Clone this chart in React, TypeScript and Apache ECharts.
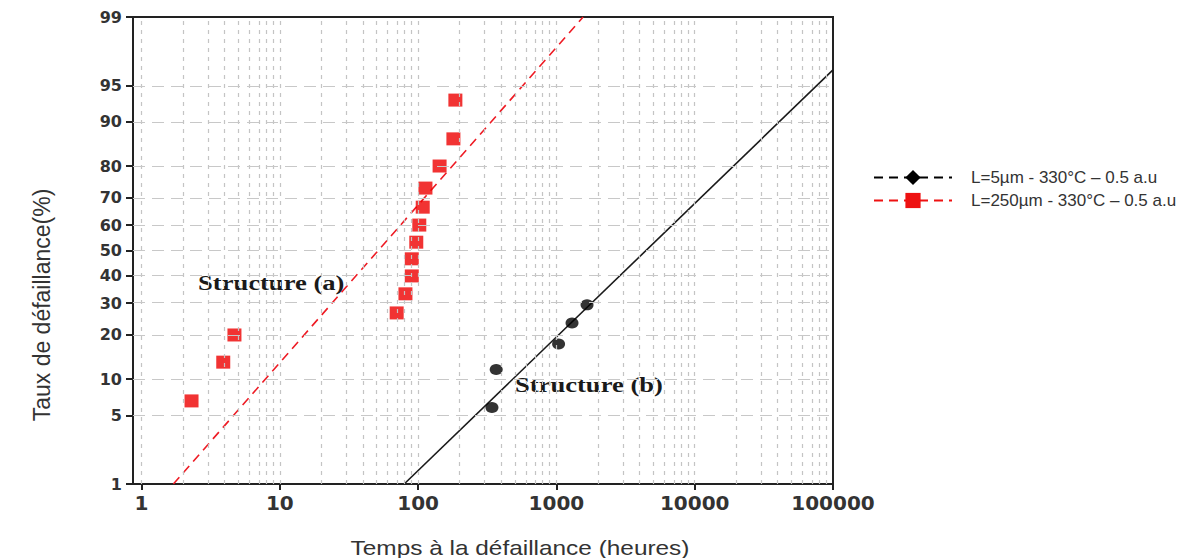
import React, { useEffect, useRef } from "react";
import * as echarts from "echarts";

// ---- Data -------------------------------------------------------------
const xTickTimes = [1, 10, 100, 1000, 10000, 100000];
const yTickPercents = [1, 5, 10, 20, 30, 40, 50, 60, 70, 80, 90, 95, 99];
const gridPercents = [5, 10, 20, 30, 40, 50, 60, 70, 80, 90, 95];
const gridDecades = [1, 10, 100, 1000, 10000];
const gridMultipliers = [1, 2, 3, 4, 5, 6, 7, 8, 9];
const xAxisMinTime = 0.868;
const xAxisMaxTime = 100000;

const seriesNames = ["L=5µm - 330°C – 0.5 a.u", "L=250µm - 330°C – 0.5 a.u"];

// Structure (a) : L = 250 µm (red squares)
const redTimes = [2.3, 3.9, 4.7, 70, 81, 90, 90, 97, 102, 108, 113, 143, 180, 186];
const redPercents = [6.7, 13.3, 20, 26.7, 33.3, 40, 46.7, 53.3, 60, 66.7, 73.3, 80, 86.7, 93.3];
// Structure (b) : L = 5 µm (black dots)
const blackTimes = [342, 367, 1037, 1297, 1665];
const blackPercents = [5.9, 11.8, 17.6, 23.5, 29.4];

// fitted lognormal lines (end points)
const redFitTimes = [1.7, 1559];
const redFitPercents = [1, 99];
const blackFitTimes = [79.3, 100000];
const blackFitPercents = [1, 96.4];

// ---- Probability scale helpers -----------------------------------------
function probit(p: number): number {
  const a = [-3.969683028665376e1, 2.209460984245205e2, -2.759285104469687e2, 1.38357751867269e2, -3.066479806614716e1, 2.506628277459239];
  const b = [-5.447609879822406e1, 1.615858368580409e2, -1.556989798598866e2, 6.680131188771972e1, -1.328068155288572e1];
  const c = [-7.784894002430293e-3, -3.223964580411365e-1, -2.400758277161838, -2.549732539343734, 4.374664141464968, 2.938163982698783];
  const d = [7.784695709041462e-3, 3.224671290700398e-1, 2.445134137142996, 3.754408661907416];
  const pl = 0.02425;
  if (p < pl) {
    const q = Math.sqrt(-2 * Math.log(p));
    return (((((c[0] * q + c[1]) * q + c[2]) * q + c[3]) * q + c[4]) * q + c[5]) / ((((d[0] * q + d[1]) * q + d[2]) * q + d[3]) * q + 1);
  }
  if (p > 1 - pl) {
    const q = Math.sqrt(-2 * Math.log(1 - p));
    return -(((((c[0] * q + c[1]) * q + c[2]) * q + c[3]) * q + c[4]) * q + c[5]) / ((((d[0] * q + d[1]) * q + d[2]) * q + d[3]) * q + 1);
  }
  const q = p - 0.5;
  const r = q * q;
  return ((((((a[0] * r + a[1]) * r + a[2]) * r + a[3]) * r + a[4]) * r + a[5]) * q) / (((((b[0] * r + b[1]) * r + b[2]) * r + b[3]) * r + b[4]) * r + 1);
}
const py = (pct: number) => probit(pct / 100);
const lx = (t: number) => Math.log10(t);
const pairs = (ts: number[], ps: number[]) => ts.map((t, i) => [lx(t), py(ps[i])]);

const SANS = "'Liberation Sans', Arial, sans-serif";
const TICKFONT = "'DejaVu Sans', Verdana, sans-serif";
const SERIF = "'Liberation Serif', 'Times New Roman', serif";

export default function App() {
  const ref = useRef<HTMLDivElement>(null);

  useEffect(() => {
    if (!ref.current) return;
    const chart = echarts.init(ref.current, undefined, { renderer: "svg" });

    const xCustom = xTickTimes.map(lx);
    const yCustom = yTickPercents.map(py);
    const vGrid: number[] = [];
    gridDecades.forEach((d) => gridMultipliers.forEach((m) => vGrid.push(lx(d * m))));
    const hGrid = gridPercents.map(py);

    const yLabel = (v: number) => {
      const found = yTickPercents.find((p) => Math.abs(py(p) - v) < 1e-6);
      return found === undefined ? "" : String(found);
    };

    chart.setOption({
      animation: false,
      backgroundColor: "#ffffff",
      grid: {
        left: 133,
        right: 361,
        top: 17,
        bottom: 74,
        show: true,
        borderColor: "#222",
        borderWidth: 2,
        backgroundColor: "transparent",
      },
      legend: {
        orient: "vertical",
        left: 868,
        top: 164,
        itemWidth: 78,
        itemHeight: 19,
        itemGap: 6,
        selectedMode: false,
        data: seriesNames,
        textStyle: { fontFamily: SANS, fontSize: 17, color: "#333", padding: [0, 0, 0, 14] },
      },
      xAxis: {
        type: "value",
        min: lx(xAxisMinTime),
        max: lx(xAxisMaxTime),
        axisLine: { show: true, onZero: false, lineStyle: { color: "#222", width: 2 } },
        axisTick: { show: true, customValues: xCustom, length: 6, lineStyle: { color: "#222", width: 2 } },
        axisLabel: {
          customValues: xCustom,
          formatter: (v: number) => String(Math.round(Math.pow(10, v))),
          fontFamily: TICKFONT,
          fontWeight: "bold",
          fontSize: 20,
          color: "#333",
          margin: 9,
        },
        splitLine: { show: false },
      },
      yAxis: {
        type: "value",
        min: py(1),
        max: py(99),
        axisLine: { show: true, onZero: false, lineStyle: { color: "#222", width: 2 } },
        axisTick: { show: true, customValues: yCustom, length: 7, lineStyle: { color: "#222", width: 2 } },
        axisLabel: {
          customValues: yCustom,
          formatter: yLabel,
          fontFamily: TICKFONT,
          fontWeight: "bold",
          fontSize: 16,
          color: "#333",
          margin: 11,
        },
        splitLine: { show: false },
      },
      series: [
        {
          name: "vgrid",
          type: "line",
          data: [],
          silent: true,
          z: 1,
          markLine: {
            silent: true,
            symbol: ["none", "none"],
            label: { show: false },
            lineStyle: { color: "#c4c4c4", width: 1.2, type: [4, 5] },
            emphasis: { disabled: true },
            data: vGrid.map((v) => ({ xAxis: v })),
          },
        },
        {
          name: "hgrid",
          type: "line",
          data: [],
          silent: true,
          z: 1,
          markLine: {
            silent: true,
            symbol: ["none", "none"],
            label: { show: false },
            lineStyle: { color: "#c8c8c8", width: 1.2, type: [12, 7] },
            emphasis: { disabled: true },
            data: hGrid.map((v) => ({ yAxis: v })),
          },
        },
        {
          name: seriesNames[0],
          type: "line",
          data: [],
          symbol: "diamond",
          itemStyle: { color: "#000" },
          lineStyle: { color: "#000", width: 1.2, type: [9, 6] },
        },
        {
          name: seriesNames[1],
          type: "line",
          data: [],
          symbol: "rect",
          itemStyle: { color: "#ee1111" },
          lineStyle: { color: "#ee1111", width: 1.2, type: [9, 6] },
        },
        {
          name: "fitA",
          type: "line",
          data: pairs(redFitTimes, redFitPercents),
          showSymbol: false,
          symbol: "none",
          silent: true,
          z: 2,
          lineStyle: { color: "#ee1b24", width: 1.6, type: [9, 6] },
        },
        {
          name: "fitB",
          type: "line",
          data: pairs(blackFitTimes, blackFitPercents),
          showSymbol: false,
          symbol: "none",
          silent: true,
          z: 2,
          lineStyle: { color: "#1a1a1a", width: 1.6 },
        },
        {
          name: "pointsA",
          type: "scatter",
          data: pairs(redTimes, redPercents),
          symbol: "rect",
          symbolSize: [14, 13],
          z: 3,
          itemStyle: { color: "#ee0000" },
        },
        {
          name: "pointsB",
          type: "scatter",
          data: pairs(blackTimes, blackPercents),
          symbol: "circle",
          symbolSize: [13, 11],
          z: 3,
          itemStyle: { color: "#000" },
        },
      ],
      graphic: [
        {
          type: "text",
          x: 198,
          y: 283,
          scaleX: 1.33,
          style: { text: "Structure (a)", font: `bold 20px ${SERIF}`, fill: "#1a1a1a", textVerticalAlign: "middle" },
        },
        {
          type: "text",
          x: 515,
          y: 385,
          scaleX: 1.33,
          style: { text: "Structure (b)", font: `bold 20px ${SERIF}`, fill: "#1a1a1a", textVerticalAlign: "middle" },
        },
        {
          type: "text",
          x: 520,
          y: 548,
          scaleX: 1.22,
          style: { text: "Temps à la défaillance (heures)", font: `20px ${SANS}`, fill: "#333", textAlign: "center", textVerticalAlign: "middle" },
        },
        {
          type: "text",
          x: 42,
          y: 305,
          rotation: Math.PI / 2,
          style: { text: "Taux de défaillance(%)", font: `23px ${SANS}`, fill: "#333", textAlign: "center", textVerticalAlign: "middle" },
        },
      ],
    });

    return () => chart.dispose();
  }, []);

  return <div ref={ref} style={{ position: "fixed", left: 0, top: 0, width: 1194, height: 558 }} />;
}
